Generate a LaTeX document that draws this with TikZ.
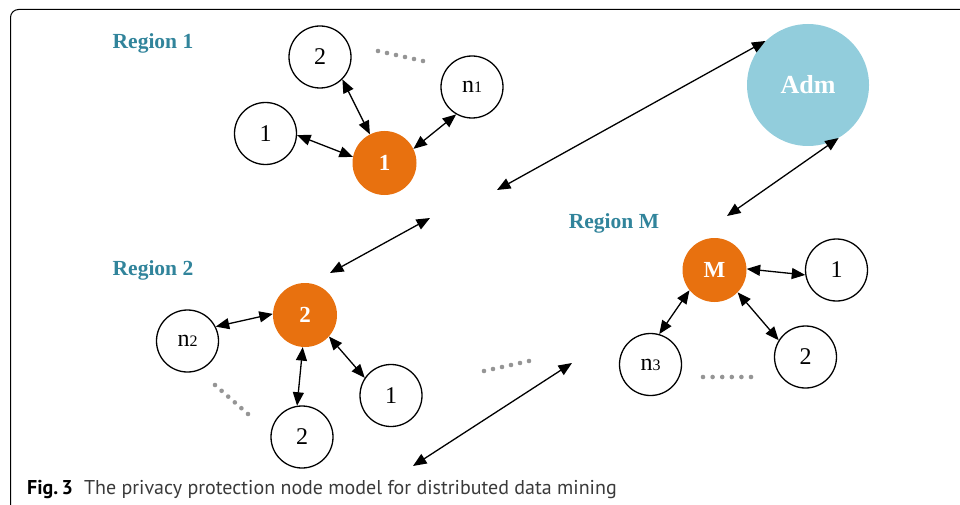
\documentclass[tikz,border=0pt]{standalone}
\usepackage{fontspec}
\setmainfont{Liberation Serif}
\newfontfamily\capfont{PT Sans}
\usetikzlibrary{arrows.meta,calc}
\definecolor{regteal}{HTML}{31849B}
\definecolor{admblue}{HTML}{92CDDC}
\definecolor{hdorange}{HTML}{E8710F}
\definecolor{dotgray}{HTML}{959595}
\definecolor{capgray}{HTML}{3A3A3A}
\tikzset{
  wnode/.style={circle,draw=black,line width=1.3pt,fill=white,minimum size=62pt,inner sep=0pt,font=\fontsize{24}{24}\selectfont},
  onode/.style={circle,fill=hdorange,minimum size=64pt,inner sep=0pt,text=white,font=\fontsize{23}{23}\selectfont\bfseries},
  anode/.style={circle,fill=admblue,minimum size=122pt,inner sep=0pt,text=white,font=\fontsize{26}{26}\selectfont\bfseries},
  reglabel/.style={text=regteal,font=\fontsize{21.5}{21.5}\selectfont\bfseries,anchor=base,inner sep=0pt},
  link/.style={line width=1.3pt,{Triangle[length=13.5pt,width=11pt]}-{Triangle[length=13.5pt,width=11pt]}},
  dotmark/.style={fill=dotgray,draw=none},
}
\newcommand{\sm}[1]{{\fontsize{16}{16}\selectfont #1}}
\begin{document}
\begin{tikzpicture}[x=1pt,y=-1pt]
\useasboundingbox (0,0) rectangle (960,505);
% frame
\draw[line width=1pt,rounded corners=8pt] (10.5,506) -- (10.5,9.5) -- (961,9.5);
% labels
\node[reglabel] (lr1) at (153,48.5) {Region 1};
\node[reglabel] (lr2) at (153,275) {Region 2};
\node[reglabel] (lrm) at (614,228.3) {Region M};
% region 1
\node[onode] (o1) at (384.5,163) {1};
\node[wnode] (a2) at (320,57) {2};
\node[wnode] (a1) at (265.5,133.5) {1};
\node[wnode] (an) at (472,87) {n\sm{1}};
% region 2
\node[onode] (o2) at (305,315) {2};
\node[wnode] (bn) at (187.5,341) {n\sm{2}};
\node[wnode] (b2) at (302,437) {2};
\node[wnode] (b1) at (391,395.5) {1};
% region M
\node[onode] (oM) at (714.5,270) {M};
\node[wnode] (c1) at (836.5,270) {1};
\node[wnode] (cn) at (650.5,364.5) {n\sm{3}};
\node[wnode] (c2) at (805.5,357) {2};
% admin
\node[anode] (adm) at (808,85) {Adm};
% free ends
\coordinate (f1) at (497,190);
\coordinate (f2) at (727,216);
\coordinate (f3a) at (430,218);
\coordinate (f3b) at (330,273);
\coordinate (f4a) at (572,363);
\coordinate (f4b) at (413,466);
% links
\draw[link] (o1.117) -- (a2.-45);
\draw[link] (o1.169) -- (a1.-3);
\draw[link] (o1.26) -- (an.-120);
\draw[link] (o2.178) -- (bn.27);
\draw[link] (o2.266) -- (b2.99);
\draw[link] (o2.-42) -- (b1.146);
\draw[link] (oM.2) -- (c1.189);
\draw[link] (oM.219) -- (cn.74);
\draw[link] (oM.-44) -- (c2.148);
\draw[link] (adm.134) -- (f1);
\draw[link] (adm.-60) -- (f2);
\draw[link] (f3a) -- (f3b);
\draw[link] (f4a) -- (f4b);
% dots
\foreach \i in {0,...,5}{
  \fill[dotmark] ($(378,51)!\i/5!(423,61)$) circle (2.3pt);
  \fill[dotmark] ($(215,385)!\i/5!(248,414)$) circle (2.3pt);
  \fill[dotmark] ($(484,371)!\i/5!(529,361)$) circle (2.3pt);
  \fill[dotmark] ($(703,377)!\i/5!(751,377)$) circle (2.3pt);
}
% caption
\node[anchor=base west,inner sep=0pt,font=\capfont\fontsize{20}{20}\selectfont,text=capgray] (cap) at (27,494.5) {{\bfseries\color{black}Fig.\,3}\hspace{0.55em}The privacy protection node model for distributed data mining};
\end{tikzpicture}
\end{document}
